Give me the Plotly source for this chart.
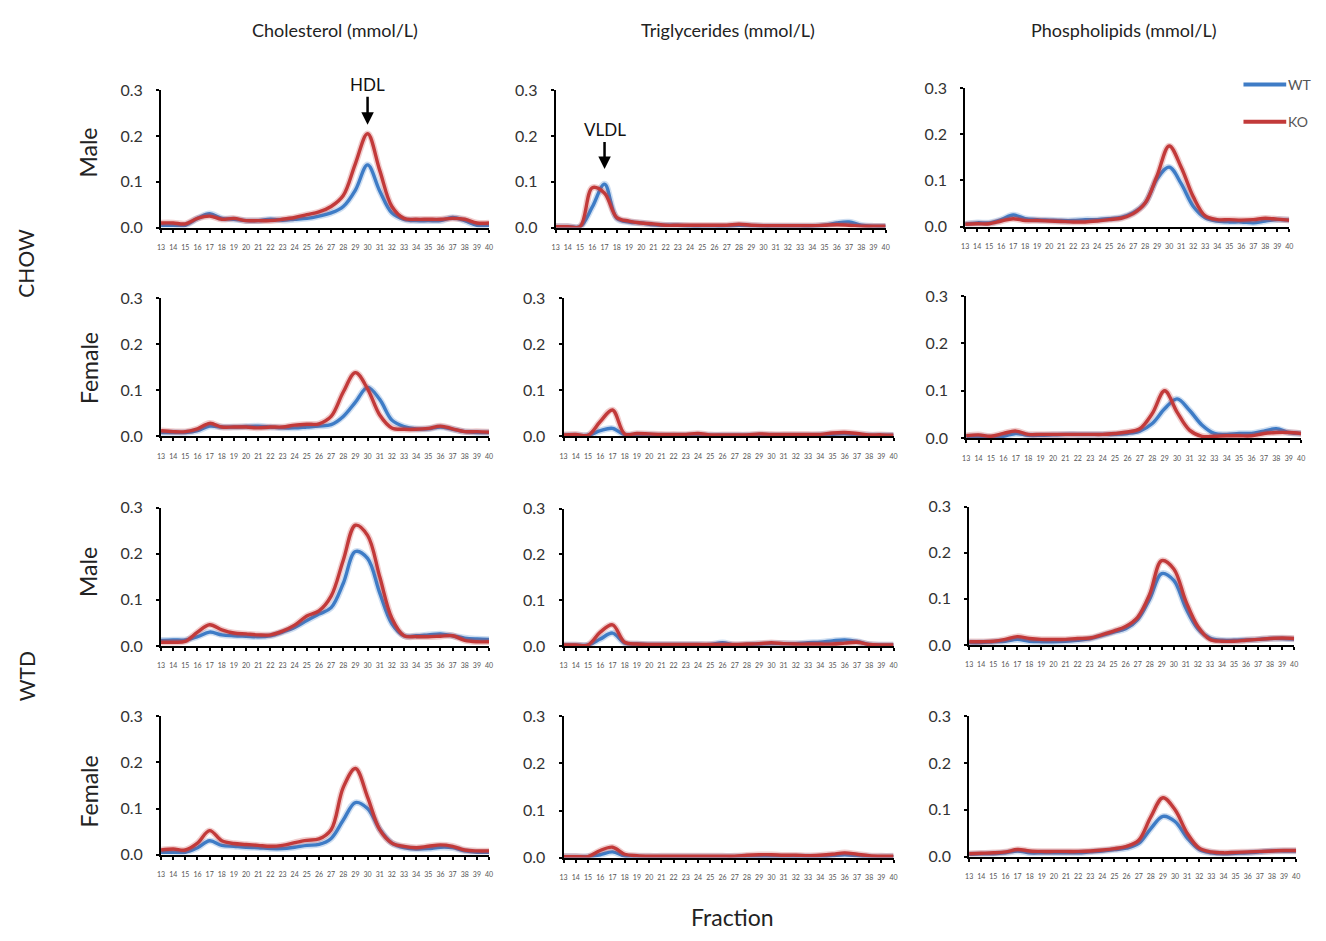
import plotly.graph_objects as go

W, H = 1326, 941


def px(x):
    return x / W


def py(y):
    return 1 - y / H


fractions = list(range(13, 41))
fraction_labels = [str(f) for f in fractions]
y_ticks = [0.0, 0.1, 0.2, 0.3]
y_tick_labels = ["0.0", "0.1", "0.2", "0.3"]

col_titles = ["Cholesterol (mmol/L)", "Triglycerides (mmol/L)", "Phospholipids (mmol/L)"]
row_labels = ["Male", "Female", "Male", "Female"]
diet_labels = ["CHOW", "WTD"]
series_names = ["WT", "KO"]

# ---- CHOW Male ----
chow_male_chol_wt = [0.005, 0.005, 0.005, 0.02, 0.03, 0.02, 0.018, 0.015, 0.015, 0.018, 0.016, 0.018, 0.02, 0.025,
                     0.032, 0.046, 0.082, 0.137, 0.08, 0.032, 0.018, 0.015, 0.015, 0.015, 0.022, 0.015, 0.005, 0.005]
chow_male_chol_ko = [0.01, 0.01, 0.008, 0.02, 0.025, 0.018, 0.02, 0.015, 0.015, 0.015, 0.018, 0.022, 0.028, 0.034,
                     0.046, 0.07, 0.14, 0.205, 0.125, 0.046, 0.02, 0.018, 0.018, 0.018, 0.02, 0.018, 0.01, 0.01]
chow_male_tg_wt = [0.002, 0.002, 0.002, 0.045, 0.095, 0.02, 0.012, 0.01, 0.006, 0.005, 0.005, 0.003, 0.003, 0.003,
                   0.003, 0.005, 0.004, 0.003, 0.003, 0.003, 0.003, 0.003, 0.005, 0.01, 0.012, 0.005, 0.003, 0.003]
chow_male_tg_ko = [0.002, 0.002, 0.002, 0.087, 0.075, 0.022, 0.014, 0.01, 0.008, 0.005, 0.005, 0.005, 0.005, 0.005,
                   0.005, 0.007, 0.005, 0.004, 0.004, 0.004, 0.004, 0.004, 0.005, 0.006, 0.005, 0.003, 0.003, 0.003]
chow_male_pl_wt = [0.005, 0.008, 0.008, 0.015, 0.025, 0.017, 0.015, 0.014, 0.013, 0.013, 0.015, 0.015, 0.017, 0.02,
                   0.03, 0.051, 0.104, 0.129, 0.093, 0.044, 0.019, 0.012, 0.01, 0.01, 0.008, 0.012, 0.015, 0.014]
chow_male_pl_ko = [0.005, 0.006, 0.006, 0.012, 0.017, 0.013, 0.013, 0.012, 0.011, 0.01, 0.01, 0.012, 0.015, 0.018,
                   0.028, 0.051, 0.111, 0.175, 0.129, 0.065, 0.023, 0.015, 0.015, 0.014, 0.015, 0.018, 0.016, 0.014]

# ---- CHOW Female ----
chow_female_chol_wt = [0.008, 0.008, 0.008, 0.012, 0.022, 0.02, 0.02, 0.021, 0.022, 0.02, 0.018, 0.018, 0.02, 0.022,
                       0.025, 0.043, 0.074, 0.106, 0.08, 0.035, 0.021, 0.016, 0.016, 0.02, 0.015, 0.01, 0.008, 0.008]
chow_female_chol_ko = [0.012, 0.01, 0.01, 0.016, 0.028, 0.02, 0.02, 0.02, 0.018, 0.02, 0.02, 0.024, 0.026, 0.027,
                       0.043, 0.096, 0.138, 0.103, 0.046, 0.018, 0.015, 0.015, 0.017, 0.022, 0.016, 0.01, 0.01, 0.009]
chow_female_tg_wt = [0.002, 0.002, 0.002, 0.012, 0.017, 0.003, 0.003, 0.003, 0.002, 0.002, 0.002, 0.003, 0.002, 0.002,
                     0.002, 0.002, 0.003, 0.002, 0.002, 0.002, 0.002, 0.003, 0.004, 0.005, 0.003, 0.002, 0.002, 0.002]
chow_female_tg_ko = [0.003, 0.004, 0.002, 0.032, 0.057, 0.005, 0.006, 0.005, 0.004, 0.004, 0.004, 0.006, 0.003, 0.003,
                     0.003, 0.003, 0.005, 0.004, 0.004, 0.004, 0.004, 0.004, 0.007, 0.008, 0.006, 0.003, 0.003, 0.002]
chow_female_pl_wt = [0.003, 0.004, 0.002, 0.004, 0.01, 0.006, 0.006, 0.007, 0.008, 0.008, 0.008, 0.008, 0.008, 0.01,
                     0.015, 0.031, 0.062, 0.083, 0.059, 0.028, 0.01, 0.008, 0.01, 0.01, 0.015, 0.02, 0.012, 0.01]
chow_female_pl_ko = [0.005, 0.007, 0.004, 0.01, 0.015, 0.008, 0.008, 0.008, 0.008, 0.008, 0.008, 0.008, 0.01, 0.013,
                     0.02, 0.052, 0.1, 0.055, 0.017, 0.004, 0.004, 0.005, 0.005, 0.005, 0.01, 0.012, 0.012, 0.01]

# ---- WTD Male ----
wtd_male_chol_wt = [0.012, 0.013, 0.013, 0.02, 0.03, 0.024, 0.022, 0.021, 0.02, 0.022, 0.03, 0.04, 0.055, 0.069,
                    0.083, 0.136, 0.205, 0.19, 0.115, 0.048, 0.022, 0.022, 0.024, 0.026, 0.022, 0.017, 0.015, 0.014]
wtd_male_chol_ko = [0.008, 0.008, 0.01, 0.03, 0.046, 0.035, 0.028, 0.026, 0.024, 0.024, 0.032, 0.045, 0.065, 0.076,
                    0.108, 0.186, 0.262, 0.24, 0.15, 0.06, 0.022, 0.02, 0.02, 0.021, 0.022, 0.012, 0.009, 0.009]
wtd_male_tg_wt = [0.002, 0.002, 0.002, 0.015, 0.028, 0.006, 0.004, 0.003, 0.003, 0.003, 0.003, 0.003, 0.003, 0.007,
                  0.002, 0.003, 0.004, 0.005, 0.005, 0.005, 0.007, 0.008, 0.011, 0.013, 0.01, 0.003, 0.002, 0.002]
wtd_male_tg_ko = [0.002, 0.002, 0.002, 0.03, 0.046, 0.008, 0.004, 0.003, 0.003, 0.003, 0.003, 0.003, 0.003, 0.003,
                  0.003, 0.004, 0.005, 0.007, 0.005, 0.004, 0.004, 0.004, 0.004, 0.006, 0.008, 0.003, 0.002, 0.002]
wtd_male_pl_wt = [0.005, 0.005, 0.007, 0.008, 0.012, 0.008, 0.007, 0.007, 0.008, 0.01, 0.013, 0.02, 0.028, 0.035,
                  0.055, 0.1, 0.155, 0.14, 0.08, 0.035, 0.015, 0.01, 0.01, 0.011, 0.012, 0.014, 0.014, 0.013]
wtd_male_pl_ko = [0.007, 0.007, 0.008, 0.012, 0.018, 0.014, 0.012, 0.012, 0.012, 0.014, 0.015, 0.022, 0.03, 0.04,
                  0.06, 0.11, 0.183, 0.165, 0.095, 0.04, 0.012, 0.008, 0.008, 0.01, 0.012, 0.014, 0.015, 0.014]

# ---- WTD Female ----
wtd_female_chol_wt = [0.005, 0.005, 0.005, 0.015, 0.03, 0.02, 0.018, 0.016, 0.015, 0.013, 0.013, 0.016, 0.02, 0.022,
                      0.035, 0.075, 0.113, 0.1, 0.055, 0.025, 0.015, 0.012, 0.013, 0.016, 0.015, 0.008, 0.005, 0.005]
wtd_female_chol_ko = [0.01, 0.012, 0.01, 0.025, 0.052, 0.03, 0.024, 0.022, 0.02, 0.018, 0.02, 0.026, 0.031, 0.034,
                      0.054, 0.146, 0.187, 0.125, 0.054, 0.025, 0.018, 0.015, 0.018, 0.021, 0.018, 0.01, 0.008, 0.008]
wtd_female_tg_wt = [0.002, 0.002, 0.002, 0.006, 0.012, 0.003, 0.002, 0.002, 0.002, 0.002, 0.002, 0.002, 0.002, 0.002,
                    0.002, 0.002, 0.002, 0.002, 0.002, 0.002, 0.002, 0.002, 0.004, 0.006, 0.004, 0.002, 0.002, 0.002]
wtd_female_tg_ko = [0.002, 0.002, 0.002, 0.015, 0.022, 0.007, 0.004, 0.003, 0.003, 0.003, 0.003, 0.003, 0.003, 0.003,
                    0.003, 0.005, 0.006, 0.006, 0.005, 0.005, 0.004, 0.005, 0.007, 0.01, 0.007, 0.004, 0.003, 0.003]
wtd_female_pl_wt = [0.005, 0.006, 0.006, 0.008, 0.012, 0.008, 0.008, 0.008, 0.008, 0.008, 0.01, 0.012, 0.015, 0.018,
                    0.028, 0.06, 0.086, 0.075, 0.04, 0.015, 0.008, 0.006, 0.007, 0.008, 0.01, 0.012, 0.012, 0.012]
wtd_female_pl_ko = [0.006, 0.007, 0.008, 0.01, 0.015, 0.012, 0.011, 0.011, 0.011, 0.011, 0.012, 0.014, 0.017, 0.022,
                    0.035, 0.085, 0.126, 0.1, 0.05, 0.018, 0.01, 0.008, 0.009, 0.01, 0.011, 0.012, 0.013, 0.013]

panels = [
    [(chow_male_chol_wt, chow_male_chol_ko), (chow_male_tg_wt, chow_male_tg_ko), (chow_male_pl_wt, chow_male_pl_ko)],
    [(chow_female_chol_wt, chow_female_chol_ko), (chow_female_tg_wt, chow_female_tg_ko), (chow_female_pl_wt, chow_female_pl_ko)],
    [(wtd_male_chol_wt, wtd_male_chol_ko), (wtd_male_tg_wt, wtd_male_tg_ko), (wtd_male_pl_wt, wtd_male_pl_ko)],
    [(wtd_female_chol_wt, wtd_female_chol_ko), (wtd_female_tg_wt, wtd_female_tg_ko), (wtd_female_pl_wt, wtd_female_pl_ko)],
]

# target pixel boxes of each panel (x0, x1, ytop, ybottom)
boxes = [
    [(158, 488, 82, 222), (555, 887, 82, 222), (967, 1293, 80, 221)],
    [(158, 488, 294, 435), (563, 895, 294, 435), (968, 1305, 292, 437)],
    [(158, 488, 508, 649), (563, 895, 509, 649), (971, 1298, 507, 648)],
    [(158, 488, 721, 862), (563, 895, 721, 865), (971, 1300, 721, 864)],
]

BLUE = "#3f7cc6"
RED = "#c23a3a"
FONT = "Lato, 'Open Sans', sans-serif"

fig = go.Figure()
layout = dict(
    width=W, height=H,
    margin=dict(l=0, r=0, t=0, b=0),
    paper_bgcolor="white", plot_bgcolor="white",
    showlegend=False,
    font=dict(family=FONT, color="#222"),
)

k = 0
for r in range(4):
    for c in range(3):
        k += 1
        xa = "x" if k == 1 else f"x{k}"
        ya = "y" if k == 1 else f"y{k}"
        wt, ko = panels[r][c]
        for vals, col in ((wt, BLUE), (ko, RED)):
            fig.add_trace(go.Scatter(x=fractions, y=vals, mode="lines", xaxis=xa, yaxis=ya,
                                     line=dict(color=col, width=6.5, shape="spline", smoothing=1),
                                     opacity=0.25, hoverinfo="skip", cliponaxis=False))
            fig.add_trace(go.Scatter(x=fractions, y=vals, mode="lines", xaxis=xa, yaxis=ya,
                                     line=dict(color=col, width=3.4, shape="spline", smoothing=1),
                                     cliponaxis=False))
        x0, x1, yt, yb = boxes[r][c]
        layout["xaxis" if k == 1 else f"xaxis{k}"] = dict(
            domain=[px(x0), px(x1)], anchor=ya, range=[13, 40],
            tickvals=fractions, ticktext=fraction_labels,
            tickfont=dict(size=7, color="#555"), ticks="outside", ticklen=3, tickwidth=1.5,
            tickcolor="black", showline=True, linecolor="black", linewidth=2,
            showgrid=False, zeroline=False, ticklabelstandoff=9, tickangle=0,
        )
        layout["yaxis" if k == 1 else f"yaxis{k}"] = dict(
            domain=[py(yb), py(yt)], anchor=xa, range=[0, 0.3],
            tickvals=y_ticks, ticktext=y_tick_labels,
            tickfont=dict(size=16, color="#333"), ticks="outside", ticklen=3, tickwidth=1.5,
            tickcolor="black", showline=True, linecolor="black", linewidth=2,
            showgrid=False, zeroline=False, ticklabelstandoff=10,
        )

fig.update_layout(**layout)

ann = []
C = dict(xanchor="center", yanchor="middle", xref="paper", yref="paper", showarrow=False)
for txt, xc in zip(col_titles, [333, 728, 1127]):
    ann.append(dict(text=txt, x=px(xc), y=py(20), font=dict(size=18, color="#222"), **C))
for txt, yc in zip(row_labels, [145, 365, 573, 797]):
    ann.append(dict(text=txt, x=px(85), y=py(yc), textangle=-90, font=dict(size=23, color="#222"), **C))
for txt, yc in zip(diet_labels, [258, 680]):
    ann.append(dict(text=txt, x=px(22), y=py(yc), textangle=-90, font=dict(size=21, color="#222"), **C))
ann.append(dict(text="Fraction", x=px(733), y=py(926), font=dict(size=23, color="#222"), **C))
# peak markers
ann.append(dict(text="HDL", x=30, y=0.225, xref="x", yref="y", showarrow=True,
                ax=0, ay=-40, arrowhead=2, arrowsize=1, arrowwidth=2.5, arrowcolor="black",
                font=dict(size=17, color="#111")))
ann.append(dict(text="VLDL", x=17, y=0.128, xref="x2", yref="y2", showarrow=True,
                ax=0, ay=-39, arrowhead=2, arrowsize=1, arrowwidth=2.5, arrowcolor="black",
                font=dict(size=17, color="#111")))
# legend
shapes = []
for name, col, yc in zip(series_names, [BLUE, RED], [76, 114]):
    shapes.append(dict(type="line", xref="paper", yref="paper", x0=px(1247), x1=px(1290),
                       y0=py(yc), y1=py(yc), line=dict(color=col, width=4)))
    ann.append(dict(text=name, x=px(1290), y=py(yc), xref="paper", yref="paper",
                    xanchor="left", yanchor="middle", showarrow=False,
                    font=dict(size=14, color="#555")))

fig.update_layout(annotations=ann, shapes=shapes)
fig.write_html("out.html",
               post_script="document.body.style.margin='0';document.body.style.overflow='hidden';")
